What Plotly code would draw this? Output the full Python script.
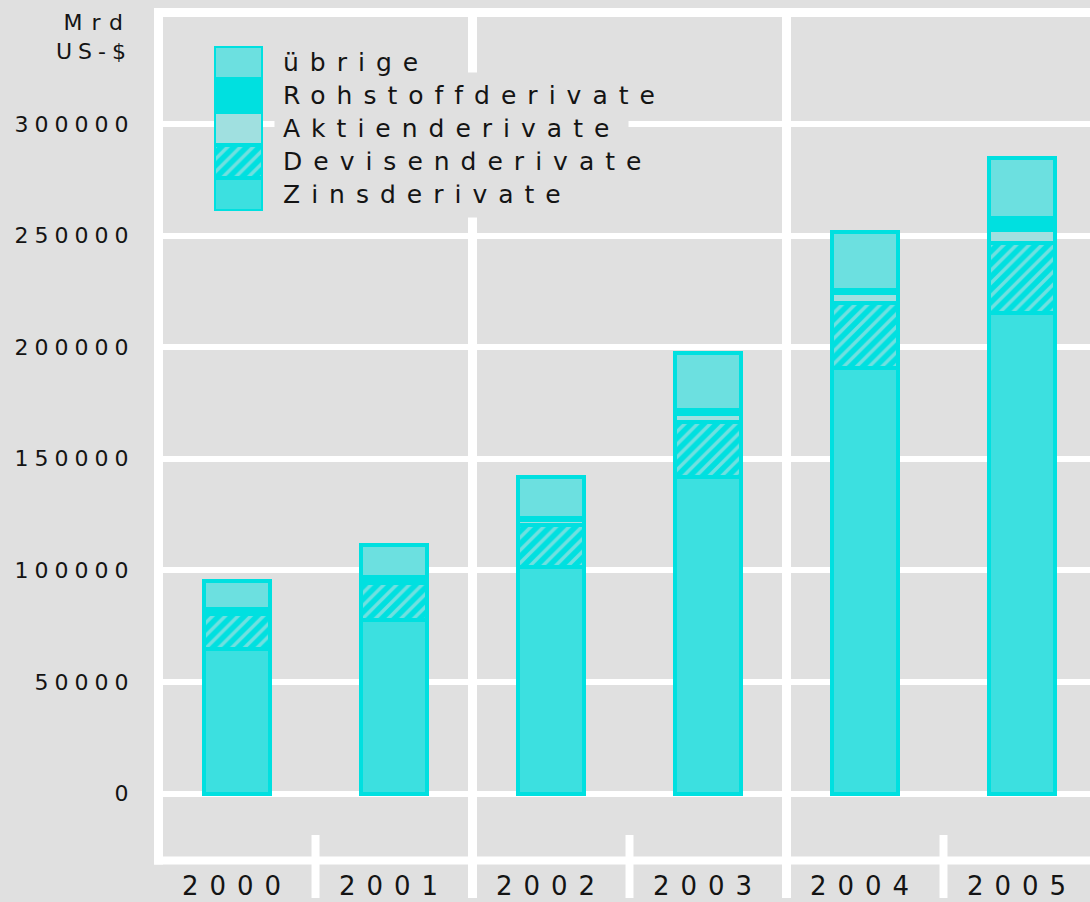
import plotly.graph_objects as go

# OTC-Derivate, ausstehende Nominalwerte (Mrd US-$), Jahresende
years = [2000, 2001, 2002, 2003, 2004, 2005]
zins = [64668, 77568, 101658, 141991, 190502, 215237]
devisen = [15666, 16748, 18448, 24475, 29289, 31364]
aktien = [1891, 1881, 2309, 3787, 4385, 5793]
rohstoff = [662, 598, 923, 1406, 1443, 5434]
uebrige = [12313, 14384, 18328, 25508, 26204, 26991]

y_ticks = [0, 50000, 100000, 150000, 200000, 250000, 300000, 350000]
y_labels = ['0', '50000', '100000', '150000', '200000', '250000', '300000', '']

BG = '#E0E0E0'
EDGE = '#00E0E0'
INK = '#141414'
FONT = 'DejaVu Sans'
HATCH = dict(shape='/', fgcolor=BG, bgcolor=EDGE, size=9, solidity=0.38)

# bottom to top
series = [
    ('Zinsderivate', zins, '#3CE0E0', None),
    ('Devisenderivate', devisen, EDGE, HATCH),
    ('Aktienderivate', aktien, '#A0E0E0', None),
    ('Rohstoffderivate', rohstoff, EDGE, None),
    ('übrige', uebrige, '#6CE0E0', None),
]


def spaced(text, ls):
    return f'<span style="letter-spacing:{ls}px">{text}</span>'


def seg_marker(color, pattern):
    m = dict(color=color, line=dict(color=EDGE, width=4))
    if pattern:
        m['pattern'] = pattern
    return m


fig = go.Figure()
for name, vals, color, pattern in series:
    fig.add_trace(go.Bar(x=years, y=vals, name=name, width=0.42,
                         marker=seg_marker(color, pattern),
                         xaxis='x', yaxis='y', showlegend=False))

# legend strip drawn as a stacked bar on its own small axes
for i, (name, vals, color, pattern) in enumerate(series):
    fig.add_trace(go.Bar(x=[0], y=[1], width=1, name=name,
                         marker=seg_marker(color, pattern), cliponaxis=False,
                         xaxis='x2', yaxis='y2', showlegend=False))
    fig.add_annotation(x=0.5, y=i + 0.5, xref='x2', yref='y2',
                       xanchor='left', yanchor='middle', xshift=11,
                       text=spaced(name, 11), showarrow=False,
                       bgcolor=BG, borderpad=8,
                       font=dict(family=FONT, size=25, color=INK))

H = 868  # plot area height in px (top margin 0)


def py(p):
    return (H - p) / H


shapes = [
    dict(type='line', xref='x', yref='y', x0=1999.4713, x1=2005.4331,
         y0=350000, y1=350000, line=dict(color='white', width=9)),
    dict(type='line', xref='x', yref='y', x0=1999.4713, x1=2005.4331,
         y0=-30000, y1=-30000, line=dict(color='white', width=8)),
    dict(type='line', xref='x', yref='y', x0=1999.5, x1=1999.5,
         y0=352000, y1=-31800, line=dict(color='white', width=9)),
]
for xv in [2001.5, 2003.5]:
    shapes.append(dict(type='line', xref='x', yref='paper', x0=xv, x1=xv,
                       y0=py(898), y1=py(8), line=dict(color='white', width=9)))
for xv in [2000.5, 2002.5, 2004.5]:
    shapes.append(dict(type='line', xref='x', yref='paper', x0=xv, x1=xv,
                       y0=py(898), y1=py(835), line=dict(color='white', width=8)))
for s in shapes:
    s['layer'] = 'below'

fig.add_annotation(x=-20 / 936, y=py(8), xref='paper', yref='paper',
                   xanchor='right', yanchor='top', align='right',
                   text=spaced('Mrd', 9) + '<br>' + spaced('US-$', 6),
                   showarrow=False, font=dict(family=FONT, size=22, color=INK))

fig.update_layout(
    width=1090, height=902,
    margin=dict(l=154, r=0, t=0, b=902 - H),
    paper_bgcolor=BG, plot_bgcolor='rgba(0,0,0,0)',
    barmode='stack', showlegend=False,
    font=dict(family=FONT, color=INK),
    shapes=shapes,
    xaxis=dict(range=[1999.4713, 2005.4331], tickvals=years,
               ticktext=[spaced(str(y), 11) for y in years],
               tickfont=dict(size=26), showgrid=False, zeroline=False,
               showline=False, ticks=''),
    yaxis=dict(range=[-33383, 355558], tickvals=y_ticks,
               ticktext=[spaced(t, 6) for t in y_labels],
               tickfont=dict(size=22), gridcolor='white', gridwidth=6,
               zeroline=False, showline=False, ticks='outside', ticklen=14,
               tickcolor='rgba(0,0,0,0)'),
    xaxis2=dict(domain=[60 / 936, 109 / 936], range=[-0.5, 0.5],
                visible=False, anchor='y2'),
    yaxis2=dict(domain=[py(211), py(46)], range=[0, 5],
                visible=False, anchor='x2'),
)

# the page's default body margin would push the figure 8px off the window
fig.write_html('out.html', config={'displayModeBar': False},
               post_script="document.body.style.margin = '0';")
